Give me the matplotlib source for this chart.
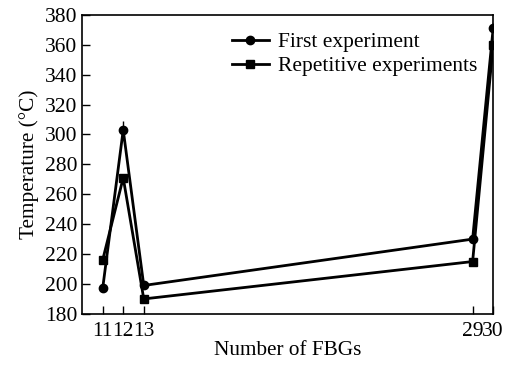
import matplotlib.pyplot as plt

plt.rcParams['font.family'] = ['Liberation Serif', 'DejaVu Serif']

# Number of FBGs and measured temperatures
fbgs = [11, 12, 13, 29, 30]
first = [197, 303, 199, 230, 371]
repeat = [216, 271, 190, 215, 360]
first_err = [0, 6, 0, 0, 4]

fig, ax = plt.subplots(figsize=(5.1, 3.8), dpi=100)
fig.subplots_adjust(left=0.161, right=0.967, bottom=0.174, top=0.961)

ax.errorbar(fbgs, first, yerr=first_err, fmt='none', ecolor='black', elinewidth=1)
ax.plot(fbgs, first, color='black', lw=2, marker='o', ms=6,
        label='First experiment')
ax.plot(fbgs, repeat, color='black', lw=2, marker='s', ms=6,
        label='Repetitive experiments')

ax.set_xlim(10, 30)
ax.set_ylim(180, 380)
ax.set_xticks(fbgs)
ax.set_xticklabels(['11', '12', '13', '29', '30'])
ax.set_yticks(range(180, 381, 20))
ax.tick_params(direction='in', labelsize=15.5, length=6, width=1)
ax.tick_params(axis='x', pad=6)
for s in ax.spines.values():
    s.set_linewidth(1.2)

ax.set_xlabel('Number of FBGs', fontsize=15.3, labelpad=0)
ax.set_ylabel('Temperature (°C)', fontsize=15.3)
ax.legend(loc='upper left', bbox_to_anchor=(0.365, 0.942), frameon=False,
          fontsize=15.5, handlelength=1.7, labelspacing=0.18, handletextpad=0.45,
          borderaxespad=0, borderpad=0)

plt.savefig('out.png')
